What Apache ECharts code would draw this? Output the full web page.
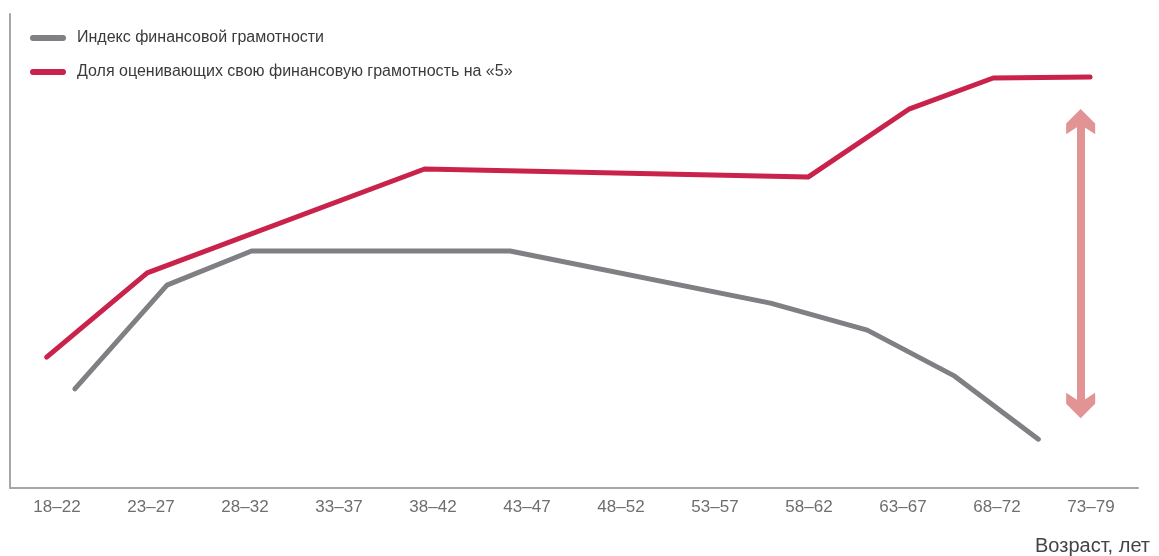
<!DOCTYPE html>
<html>
<head>
<meta charset="utf-8">
<script src="https://cdn.jsdelivr.net/npm/echarts@6/dist/echarts.min.js"></script>
<style>
  html, body { margin: 0; padding: 0; background: #fff; }
  #chart { width: 1159px; height: 556px; }
</style>
</head>
<body>
<div id="chart"></div>
<script>
// категории по оси X
const ageGroups = ['18–22', '23–27', '28–32', '33–37', '38–42', '43–47', '48–52', '53–57', '58–62', '63–67', '68–72', '73–79'];
// Индекс финансовой грамотности (позиция по X в долях категорий)
const indexX = [0.19, 1.17, 2.07, 4.82, 7.59, 8.62, 9.55, 10.44];
const indexY = [20.9, 42.8, 50.0, 50.0, 39.0, 33.3, 23.6, 10.3];
// Доля оценивающих свою грамотность на «5»
const shareX = [-0.11, 0.96, 3.91, 7.99, 9.07, 9.96, 10.99];
const shareY = [27.6, 45.4, 67.3, 65.6, 80.0, 86.5, 86.7];
// двусторонняя стрелка (разрыв)
const arrowX = 10.89;
const arrowY = [77.3, 17.4];

const pill = 'path://M3,0 H33 A3,3 0 0 1 33,6 H3 A3,3 0 0 1 3,0 Z';
const arrowHead = 'path://M40 0 L80 40 L80 70 L40 44 L0 70 L0 40 Z';
const font = 'Liberation Sans';

const myChart = echarts.init(document.getElementById('chart'));
const option = {
    animation: false,
    textStyle: { fontFamily: font },
    title: {
        text: 'Возраст, лет',
        right: 9,
        top: 536,
        padding: 0,
        textStyle: { fontFamily: font, fontSize: 20, fontWeight: 'normal', color: '#444' }
    },
    legend: {
        orient: 'vertical',
        left: 30,
        top: 30,
        padding: 0,
        itemWidth: 36,
        itemHeight: 6,
        itemGap: 18,
        icon: pill,
        textStyle: { fontFamily: font, fontSize: 16, color: '#3a3a3a', padding: [0, 0, 0, 6] },
        data: ['Индекс финансовой грамотности', 'Доля оценивающих свою финансовую грамотность на «5»']
    },
    grid: { left: 10, right: 21, top: 14, bottom: 68 },
    xAxis: [
        {
            type: 'category',
            data: ageGroups,
            boundaryGap: true,
            axisTick: { show: false },
            axisLine: { lineStyle: { color: '#a6a6a9', width: 2 } },
            axisLabel: { color: '#6e6e6e', fontSize: 17, margin: 11, fontFamily: font }
        },
        {
            type: 'value',
            min: -0.5,
            max: 11.5,
            show: false
        }
    ],
    yAxis: {
        type: 'value',
        min: 0,
        max: 100,
        axisLine: { show: true, onZero: false, lineStyle: { color: '#a6a6a9', width: 2 } },
        axisTick: { show: false },
        axisLabel: { show: false },
        splitLine: { show: false }
    },
    series: [
        {
            name: 'Индекс финансовой грамотности',
            type: 'line',
            xAxisIndex: 1,
            symbol: 'none',
            color: '#808084',
            lineStyle: { width: 5, cap: 'round', join: 'round' },
            data: indexX.map((x, i) => [x, indexY[i]])
        },
        {
            name: 'Доля оценивающих свою финансовую грамотность на «5»',
            type: 'line',
            xAxisIndex: 1,
            symbol: 'none',
            color: '#c9224b',
            lineStyle: { width: 5, cap: 'round', join: 'round' },
            data: shareX.map((x, i) => [x, shareY[i]]),
            markLine: {
                silent: true,
                symbol: [arrowHead, arrowHead],
                symbolSize: 29,
                symbolKeepAspect: true,
                label: { show: false },
                lineStyle: { color: '#e29393', width: 8, type: 'solid', opacity: 1 },
                itemStyle: { color: '#e29393' },
                emphasis: { disabled: true },
                data: [[
                    { coord: [arrowX, arrowY[0]] },
                    { coord: [arrowX, arrowY[1]] }
                ]]
            }
        }
    ]
};
myChart.setOption(option);
</script>
</body>
</html>
